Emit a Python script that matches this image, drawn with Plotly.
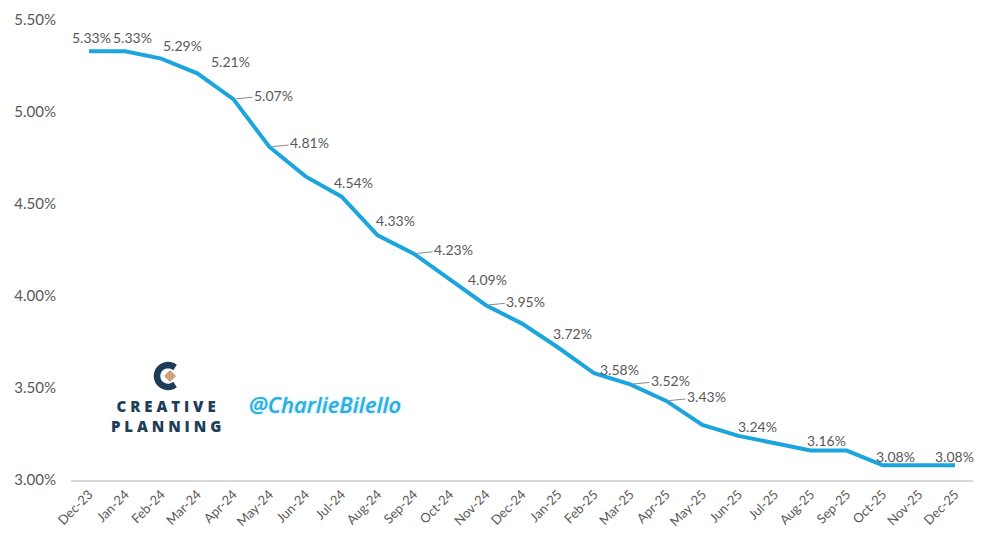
import math
import plotly.graph_objects as go

months = ["Dec-23", "Jan-24", "Feb-24", "Mar-24", "Apr-24", "May-24", "Jun-24", "Jul-24",
          "Aug-24", "Sep-24", "Oct-24", "Nov-24", "Dec-24", "Jan-25", "Feb-25", "Mar-25",
          "Apr-25", "May-25", "Jun-25", "Jul-25", "Aug-25", "Sep-25", "Oct-25", "Nov-25", "Dec-25"]
rates = [5.33, 5.33, 5.29, 5.21, 5.07, 4.81, 4.65, 4.54,
         4.33, 4.23, 4.09, 3.95, 3.85, 3.72, 3.58, 3.52,
         3.43, 3.30, 3.24, 3.20, 3.16, 3.16, 3.08, 3.08, 3.08]
# labelled points: (leader line?, xshift, yshift)
labelled = {
    "Dec-23": (False, 2, 14), "Jan-24": (False, 7, 14), "Feb-24": (False, 21, 13),
    "Mar-24": (False, 33, 12), "Apr-24": (True, 0, 0), "May-24": (True, 0, 0),
    "Jul-24": (False, 12, 14), "Aug-24": (False, 18, 15), "Sep-24": (True, 0, 0),
    "Oct-24": (False, 38, 0), "Nov-24": (True, 0, 0), "Jan-25": (False, 14, 14),
    "Feb-25": (False, 25, 4), "Mar-25": (True, 0, 0), "Apr-25": (True, 0, 0),
    "Jun-25": (False, 19, 9), "Aug-25": (False, 16, 10), "Oct-25": (False, 13, 9),
    "Dec-25": (False, 0, 9),
}
y_ticks = [3.0, 3.5, 4.0, 4.5, 5.0, 5.5]
y_tick_text = ["3.00%", "3.50%", "4.00%", "4.50%", "5.00%", "5.50%"]

FONT = "Lato"
GRAY = "#595959"
LINE = "#1ca5dc"
NAVY = "#1d3d58"

# plot area in figure pixels (page has an 8px body margin)
L, R, T, B = 63, 27, 12, 66
W, H = 992, 538
PW, PH = W - L - R, H - T - B


def px(x_fig):
    return (x_fig - L) / PW


def py(y_fig):
    return (H - B - y_fig) / PH


fig = go.Figure()
fig.add_trace(go.Scatter(x=months, y=rates, mode="lines",
                         line=dict(color=LINE, width=4), hoverinfo="skip"))

for m, v in zip(months, rates):
    if m not in labelled:
        continue
    leader, xs, ys = labelled[m]
    text = f"{v:.2f}%"
    if leader:
        fig.add_annotation(x=m, y=v, text=text, showarrow=True, arrowhead=0,
                           arrowwidth=1, arrowcolor="#8a8a8a", ax=40, ay=-4,
                           xanchor="center", standoff=3,
                           font=dict(family=FONT, size=14, color=GRAY))
    else:
        fig.add_annotation(x=m, y=v, text=text, showarrow=False,
                           xshift=xs, yshift=ys,
                           font=dict(family=FONT, size=14, color=GRAY))

# Branding: logo icon (C arc + diamond) drawn as shapes
cx, cy, r = 160, 368, 11
pts = []
for k in range(0, 19):
    a = math.radians(50 + k * (260 / 18))
    pts.append((px(cx + r * math.cos(a)), py(cy - r * math.sin(a))))
path = "M " + " L ".join(f"{x:.5f},{y:.5f}" for x, y in pts)
fig.add_shape(type="path", xref="paper", yref="paper", path=path,
              line=dict(color=NAVY, width=6.5))
d = 6
dpath = (f"M {px(cx + 2 - d):.5f},{py(cy):.5f} L {px(cx + 2):.5f},{py(cy - d):.5f} "
         f"L {px(cx + 2 + d):.5f},{py(cy):.5f} L {px(cx + 2):.5f},{py(cy + d):.5f} Z")
fig.add_shape(type="path", xref="paper", yref="paper", path=dpath,
              fillcolor="#c9a27b", line=dict(width=0))

fig.add_annotation(xref="paper", yref="paper", x=px(158), y=py(407.5),
                   xanchor="center", yanchor="middle", align="center",
                   text="C R E A T I V E<br>P L A N N I N G", showarrow=False,
                   font=dict(family="Open Sans", size=15, color=NAVY, weight=800))
fig.add_annotation(xref="paper", yref="paper", x=px(317), y=py(396),
                   xanchor="center", yanchor="middle",
                   text="<i>@CharlieBilello</i>", showarrow=False,
                   font=dict(family="Open Sans", size=22, color="#2aaee0", weight=600,
                             shadow="0px 0px 3px #a8def3"))

fig.update_layout(
    width=W, height=H,
    margin=dict(l=L, r=R, t=T, b=B, autoexpand=False),
    paper_bgcolor="white", plot_bgcolor="white",
    showlegend=False,
    font=dict(family=FONT, color=GRAY),
    xaxis=dict(type="category", range=[-0.5, 24.5], showgrid=False,
               showline=True, linecolor="#d9d9d9", linewidth=1.5,
               tickangle=-45, tickfont=dict(family=FONT, size=13, color=GRAY),
               ticks="", automargin=False),
    yaxis=dict(range=[3.0, 5.5], tickvals=y_ticks, ticktext=y_tick_text,
               showgrid=False, zeroline=False, showline=False,
               tickfont=dict(family=FONT, size=15, color=GRAY),
               ticklabelstandoff=14, automargin=False),
)

fig.write_html("out.html")
